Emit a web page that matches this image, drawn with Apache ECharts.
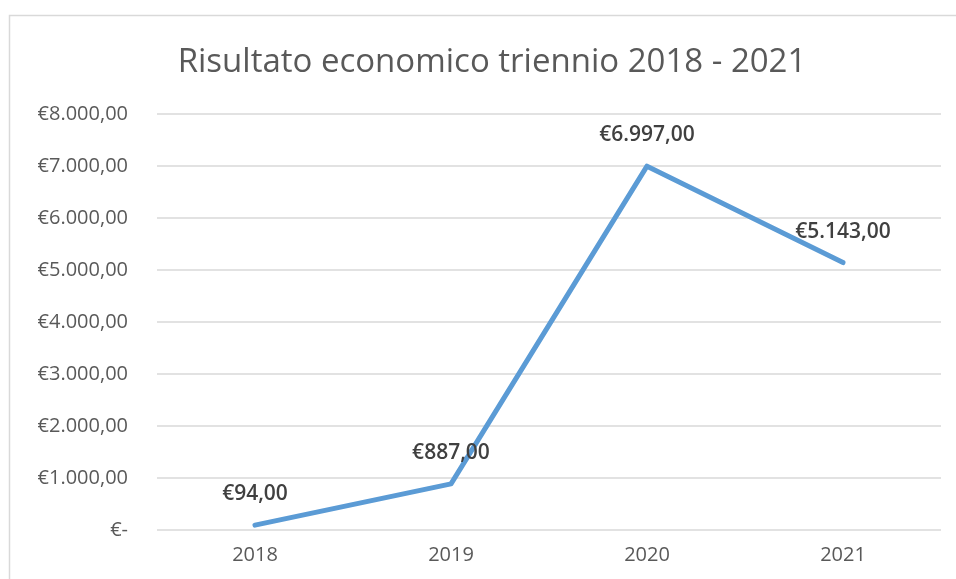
<!DOCTYPE html>
<html>
<head>
<meta charset="utf-8">
<script src="https://cdn.jsdelivr.net/npm/echarts@6/dist/echarts.min.js"></script>
<style>
  html, body { margin: 0; padding: 0; background: #fff; }
  #chart { width: 956px; height: 579px; }
</style>
</head>
<body>
<div id="chart"></div>
<script>
const years = ['2018', '2019', '2020', '2021']
const risultato = [94, 887, 6997, 5143]
const yTicks = [0, 1000, 2000, 3000, 4000, 5000, 6000, 7000, 8000]

// formato euro all'italiana: €1.234,00 e €- per lo zero
function euro(v) {
  if (v === 0) return '€-'
  const parts = v.toFixed(2).split('.')
  const intPart = parts[0].replace(/\B(?=(\d{3})+(?!\d))/g, '.')
  return '€' + intPart + ',' + parts[1]
}

const chart = echarts.init(document.getElementById('chart'))
const option = {
  animation: false,
  textStyle: { fontFamily: 'Open Sans' },
  graphic: [{
    type: 'rect',
    shape: { x: 9.5, y: 15.5, width: 960, height: 600 },
    style: { fill: 'none', stroke: '#d9d9d9', lineWidth: 1.5 },
    silent: true
  }],
  title: {
    text: 'Risultato economico triennio 2018 - 2021',
    left: 487,
    textAlign: 'center',
    top: 41,
    textStyle: { fontSize: 33, fontWeight: 'normal', color: '#595959', fontFamily: 'Open Sans' }
  },
  grid: { left: 157, right: 15, top: 114, bottom: 49, containLabel: false },
  xAxis: {
    type: 'category',
    data: years,
    boundaryGap: true,
    axisLine: { show: false },
    axisTick: { show: false },
    axisLabel: { color: '#595959', fontSize: 20, margin: 15 }
  },
  yAxis: {
    type: 'value',
    min: yTicks[0],
    max: yTicks[yTicks.length - 1],
    interval: 1000,
    axisLine: { show: false },
    axisTick: { show: false },
    splitLine: { lineStyle: { color: '#d9d9d9', width: 1.5 } },
    axisLabel: { color: '#595959', fontSize: 20, margin: 29, formatter: euro }
  },
  series: [{
    type: 'line',
    data: risultato,
    symbol: 'circle',
    symbolSize: 1,
    showSymbol: true,
    itemStyle: { color: 'rgba(0,0,0,0)' },
    lineStyle: { color: '#5b9bd5', width: 5, cap: 'round', join: 'round' },
    label: {
      show: true,
      position: 'top',
      distance: 20,
      color: '#404040',
      fontSize: 21,
      fontWeight: 600,
      formatter: p => euro(p.value)
    }
  }]
}
chart.setOption(option)
</script>
</body>
</html>
